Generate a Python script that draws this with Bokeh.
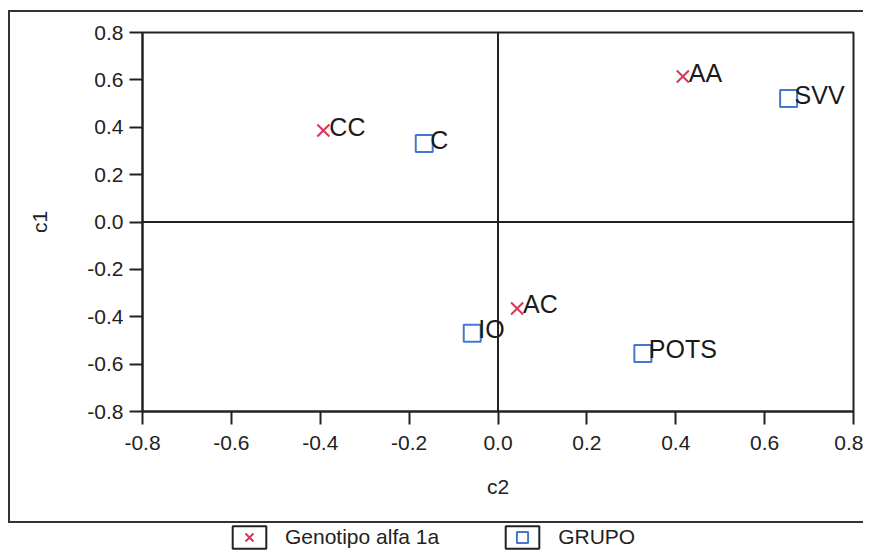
from bokeh.plotting import figure
from bokeh.models import (ColumnDataSource, Range1d, FixedTicker, Span, Legend,
                          LegendItem)
from bokeh.layouts import column
from bokeh.core.properties import value
from bokeh.embed import file_html
from bokeh.resources import INLINE

# --- data ---
geno_labels = ["CC", "AA", "AC"]
geno_c2 = [-0.393, 0.416, 0.043]
geno_c1 = [0.386, 0.614, -0.365]

grupo_labels = ["C", "SVV", "IO", "POTS"]
grupo_c2 = [-0.166, 0.654, -0.058, 0.326]
grupo_c1 = [0.331, 0.521, -0.470, -0.555]

ticks = [-0.8, -0.6, -0.4, -0.2, 0.0, 0.2, 0.4, 0.6, 0.8]
tick_labels = {t: f"{t:.1f}" for t in ticks}

legend_labels = ["Genotipo alfa 1a", "GRUPO"]

RED = "#d8365c"
BLUE = "#4677cf"
INK = "#222222"
FONT = "Liberation Sans"

p = figure(width=855, height=513, x_range=Range1d(-0.8, 0.8), y_range=Range1d(-0.8, 0.8),
           output_backend="svg", toolbar_location=None,
           min_border_left=132, min_border_right=12, min_border_top=20, min_border_bottom=114)
p.margin = (10, 0, 0, 8)
p.grid.visible = False
p.outline_line_color = INK
p.outline_line_width = 2
p.background_fill_color = "white"
p.border_fill_color = "white"
p.styles = {"border-left": "2px solid #333", "border-top": "2px solid #333",
            "border-bottom": "2px solid #333"}

for ax in (p.xaxis[0], p.yaxis[0]):
    ax.ticker = FixedTicker(ticks=ticks)
    ax.major_label_overrides = tick_labels
    ax.major_tick_out = 13
    ax.major_tick_in = 0
    ax.minor_tick_line_color = None
    ax.axis_line_color = INK
    ax.axis_line_width = 2
    ax.major_tick_line_color = INK
    ax.major_tick_line_width = 2
    ax.major_label_text_font = FONT
    ax.major_label_text_font_size = "21px"
    ax.major_label_text_color = INK
    ax.axis_label_text_font = FONT
    ax.axis_label_text_font_size = "21px"
    ax.axis_label_text_font_style = "normal"
    ax.axis_label_text_color = INK

p.xaxis.axis_label = "c2"
p.yaxis.axis_label = "c1"
p.xaxis.major_label_standoff = 11
p.xaxis.axis_label_standoff = 22
p.yaxis.major_label_standoff = 6
p.yaxis.axis_label_standoff = 33

# crosshair at zero
p.add_layout(Span(location=0, dimension="height", line_color=INK, line_width=2))
p.add_layout(Span(location=0, dimension="width", line_color=INK, line_width=2))

gsrc = ColumnDataSource(dict(x=geno_c2, y=geno_c1, label=geno_labels))
ssrc = ColumnDataSource(dict(x=grupo_c2, y=grupo_c1, label=grupo_labels))

p.scatter("x", "y", source=gsrc, marker="x", size=17, line_color=RED, line_width=2)
p.scatter("x", "y", source=ssrc, marker="square", size=17, fill_alpha=0,
          line_color=BLUE, line_width=2)

for src in (gsrc, ssrc):
    p.text("x", "y", text="label", source=src, x_offset=6, y_offset=-4,
           text_font=value(FONT), text_font_size="25px", text_color="#1a1a1a",
           text_baseline="alphabetic", text_align="left")

# --- legend strip below the boxed chart ---
# same sources, but this strip's ranges keep the points out of view: only the legend shows
lg = figure(width=865, height=28, x_range=Range1d(10, 11), y_range=Range1d(10, 11),
            output_backend="svg", toolbar_location=None, min_border=0,
            x_axis_location=None, y_axis_location=None)
lg.grid.visible = False
lg.outline_line_color = None
lg.border_fill_color = "white"
lg.background_fill_color = "white"

lr_box = lg.quad(left="x", right="x", top="y", bottom="y", source=gsrc, fill_alpha=0,
                 line_color=INK, line_width=2)
lr_geno = lg.scatter("x", "y", source=gsrc, marker="x", size=15, line_color=RED, line_width=2)
lr_grupo = lg.scatter("x", "y", source=ssrc, marker="square", size=16, fill_alpha=0,
                      line_color=BLUE, line_width=2)

legend = Legend(items=[
    LegendItem(label=legend_labels[0], renderers=[lr_box, lr_geno]),
    LegendItem(label=legend_labels[1], renderers=[lr_box, lr_grupo]),
], orientation="horizontal", location=(96, 0))
legend.glyph_width = 42
legend.glyph_height = 28
legend.label_standoff = 15
legend.spacing = 62
legend.padding = 0
legend.margin = 0
legend.border_line_alpha = 0
legend.background_fill_alpha = 0
legend.label_text_font = FONT
legend.label_text_font_size = "21px"
legend.label_text_color = INK
lg.add_layout(legend, "center")

layout = column(p, lg, spacing=0)
open("out.html", "w").write(file_html(layout, INLINE))
